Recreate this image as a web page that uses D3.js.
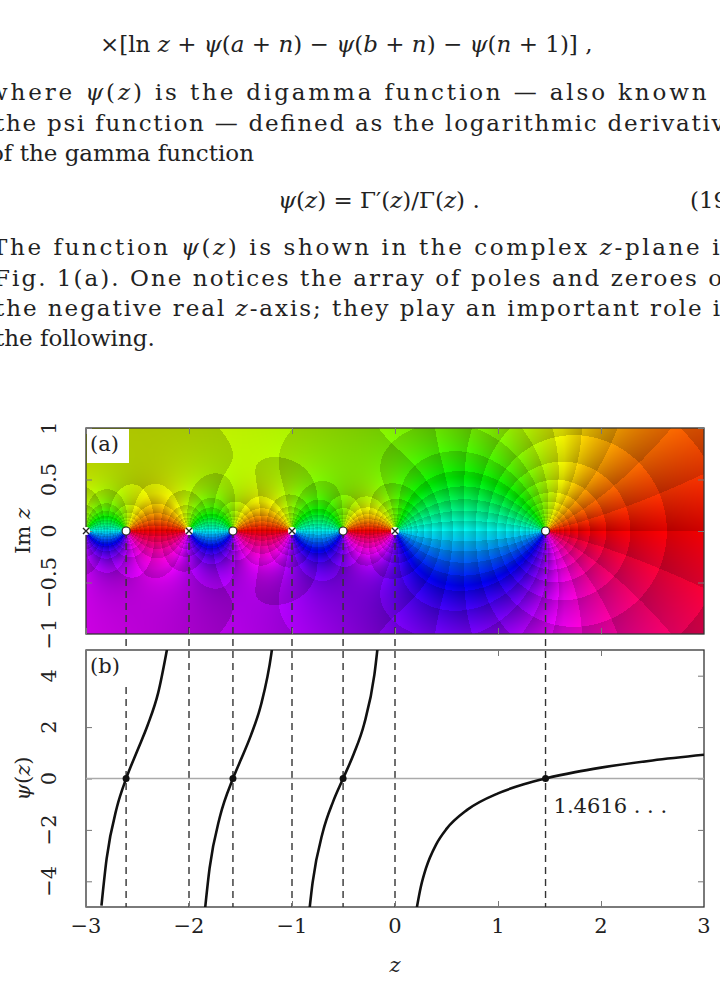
<!DOCTYPE html>
<html><head><meta charset="utf-8">
<script src="https://cdn.jsdelivr.net/npm/d3@7"></script>
<style>
body{margin:0;background:#fff;}
text{font-family:"DejaVu Serif","Liberation Serif",serif;fill:#222;}
</style></head>
<body><div id="graphics"></div>
<script>
// zeros and poles of psi on the real axis
const zeros = [-2.6107, -1.5734, -0.5040, 1.4616];
const poles = [-3, -2, -1, 0];
const xTicks = [-3, -2, -1, 0, 1, 2, 3];
const imTicks = [-1, -0.5, 0, 0.5, 1];
const psiTicks = [-4, -2, 0, 2, 4];

// branches of psi(z) on the real line, [z, psi]
const branch1 = [[-2.85,-4.95],[-2.8,-3.13],[-2.7,-1.12],[-2.61,0],[-2.5,1.10],[-2.4,2.09],[-2.3,3.32],[-2.2,5.32]];
const branch2 = [[-1.85,-5.30],[-1.8,-3.49],[-1.7,-1.49],[-1.573,0],[-1.5,0.70],[-1.4,1.67],[-1.3,2.88],[-1.2,4.87],[-1.18,5.48]];
const branch3 = [[-0.85,-5.84],[-0.8,-4.05],[-0.7,-2.07],[-0.6,-0.89],[-0.504,0],[-0.4,0.96],[-0.3,2.11],[-0.2,4.04],[-0.15,5.8]];
const branch4 = [[0.2,-5.30],[0.25,-4.23],[0.3,-3.50],[0.4,-2.56],[0.5,-1.96],[0.7,-1.22],[1,-0.577],[1.25,-0.228],[1.4616,0],[1.75,0.248],[2,0.423],[2.5,0.703],[3,0.923]];
const branches = [branch1, branch2, branch3, branch4];

const W = 720, H = 1003;
const svg = d3.select('#graphics').append('svg').attr('width', W).attr('height', H);

// ---- text block ----
const fs = 23;
function line(y, x, parts, len) {
  const t = svg.append('text').attr('x', x).attr('y', y).attr('font-size', fs);
  if (len) t.attr('textLength', len).attr('lengthAdjust', 'spacing');
  parts.forEach(p => {
    const s = t.append('tspan').text(p[0]);
    if (p[1]) s.attr('font-style', 'italic');
  });
  return t;
}
line(52, 100, [['×[ln '],['z',1],[' + '],['ψ',1],['('],['a',1],[' + '],['n',1],[') − '],['ψ',1],['('],['b',1],[' + '],['n',1],[') − '],['ψ',1],['('],['n',1],[' + 1)] ,']]);
line(100, -12, [['where '],['ψ',1],['('],['z',1],[') is the digamma function — also known as']], 760);
line(131, -5, [['the psi function — defined as the logarithmic derivative']], 745);
line(161, -10, [['of the gamma function']]);
line(208, 278, [['ψ',1],['('],['z',1],[') = Γ′('],['z',1],[')/Γ('],['z',1],[') .']]);
line(208, 690, [['(19)']]);
line(255, -8, [['The function '],['ψ',1],['('],['z',1],[') is shown in the complex '],['z',1],['-plane in']], 745);
line(286, -6, [['Fig. 1(a).  One notices the array of poles and zeroes on']], 745);
line(316, -5, [['the negative real '],['z',1],['-axis; they play an important role in']], 742);
line(346, -5, [['the following.']]);

// ---- scales ----
const x = d3.scaleLinear().domain([-3, 3]).range([86, 704]);
const yA = d3.scaleLinear().domain([-1, 1]).range([634, 428]);
const yB = d3.scaleLinear().domain([-5, 5]).range([907, 650]);

// ---- panel (a): phase portrait ----
function cdiv(a, b) { const d = b[0]*b[0]+b[1]*b[1]; return [(a[0]*b[0]+a[1]*b[1])/d, (a[1]*b[0]-a[0]*b[1])/d]; }
function cmul(a, b) { return [a[0]*b[0]-a[1]*b[1], a[0]*b[1]+a[1]*b[0]]; }
function digamma(z) {
  let acc = [0, 0], w = [z[0], z[1]];
  while (w[0] < 8) { const r = cdiv([1,0], w); acc[0] += r[0]; acc[1] += r[1]; w = [w[0]+1, w[1]]; }
  const lnw = [Math.log(Math.hypot(w[0], w[1])), Math.atan2(w[1], w[0])];
  const iw = cdiv([1,0], w), iw2 = cmul(iw, iw), iw4 = cmul(iw2, iw2), iw6 = cmul(iw4, iw2);
  return [lnw[0] - iw[0]/2 - iw2[0]/12 + iw4[0]/120 - iw6[0]/252 - acc[0],
          lnw[1] - iw[1]/2 - iw2[1]/12 + iw4[1]/120 - iw6[1]/252 - acc[1]];
}
const cw = Math.round(x.range()[1] - x.range()[0]), ch = Math.round(yA.range()[0] - yA.range()[1]);
const canvas = document.createElement('canvas'); canvas.width = cw; canvas.height = ch;
const ctx = canvas.getContext('2d'); const img = ctx.createImageData(cw, ch);
const frac = v => v - Math.floor(v);
for (let j = 0; j < ch; j++) for (let i = 0; i < cw; i++) {
  const z = [x.invert(x.range()[0] + i + 0.5), yA.invert(yA.range()[1] + j + 0.5)];
  const f = digamma(z);
  const arg = Math.atan2(f[1], f[0]);
  let hue = (arg * 180 / Math.PI + 360) % 360;
  const mod = Math.log(Math.hypot(f[0], f[1]));
  const b1 = frac(mod / Math.log(1.3)), b2 = frac(arg / (2*Math.PI/28));
  const v = 0.70 + 0.16 * b1 + 0.14 * b2;
  const c = d3.rgb(d3.hsl(hue, 1, 0.5 * v));
  const k = 4 * (j * cw + i);
  img.data[k] = c.r; img.data[k+1] = c.g; img.data[k+2] = c.b; img.data[k+3] = 255;
}
ctx.putImageData(img, 0, 0);
svg.append('image').attr('x', x.range()[0]).attr('y', yA.range()[1]).attr('width', cw).attr('height', ch)
  .attr('preserveAspectRatio', 'none').attr('href', canvas.toDataURL());

// dashed guide lines through both panels
const guides = zeros.concat(poles.filter(p => p > -3));
svg.selectAll('.guide').data(guides).join('line').attr('class', 'guide')
  .attr('x1', d => x(d)).attr('x2', d => x(d)).attr('y1', yA(0)).attr('y2', yB(-5))
  .attr('stroke', '#333').attr('stroke-width', 1.4).attr('stroke-dasharray', '7,5');

// frames, ticks
function frame(y, yt, fmt) {
  const g = svg.append('g');
  g.append('rect').attr('x', x.range()[0]).attr('y', y.range()[1]).attr('width', x.range()[1]-x.range()[0])
    .attr('height', y.range()[0]-y.range()[1]).attr('fill', 'none').attr('stroke', '#333').attr('stroke-width', 1.3);
  g.append('g').attr('transform', `translate(0,${y.range()[0]})`).call(d3.axisTop(x).tickValues(xTicks).tickSize(6).tickFormat(''));
  g.append('g').attr('transform', `translate(0,${y.range()[1]})`).call(d3.axisBottom(x).tickValues(xTicks).tickSize(6).tickFormat(''));
  g.append('g').attr('transform', `translate(${x.range()[0]},0)`).call(d3.axisRight(y).tickValues(yt).tickSize(6).tickFormat(''));
  g.append('g').attr('transform', `translate(${x.range()[1]},0)`).call(d3.axisLeft(y).tickValues(yt).tickSize(6).tickFormat(''));
  g.selectAll('.domain').remove();
  g.selectAll('.tick line').attr('stroke', '#777');
  yt.forEach(t => svg.append('text').attr('transform', `translate(56,${y(t)}) rotate(-90)`)
    .attr('text-anchor', 'middle').attr('font-size', 21).text(fmt(t)));
}
const fmtNum = t => (t < 0 ? '−' : '') + Math.abs(t);
frame(yA, imTicks, fmtNum);
frame(yB, psiTicks, fmtNum);

// zero line in (b)
svg.append('line').attr('x1', x(-3)).attr('x2', x(3)).attr('y1', yB(0)).attr('y2', yB(0))
  .attr('stroke', '#aaa').attr('stroke-width', 1.3);

// markers in (a)
svg.selectAll('.zeroA').data(zeros).join('circle').attr('cx', d => x(d)).attr('cy', yA(0)).attr('r', 4)
  .attr('fill', '#fff').attr('stroke', '#222').attr('stroke-width', 1.2);
poles.forEach(p => {
  svg.append('circle').attr('cx', x(p)).attr('cy', yA(0)).attr('r', 4).attr('fill', '#fff');
  svg.append('path').attr('d', `M${x(p)-3},${yA(0)-3}L${x(p)+3},${yA(0)+3}M${x(p)-3},${yA(0)+3}L${x(p)+3},${yA(0)-3}`)
    .attr('stroke', '#222').attr('stroke-width', 1.4);
});

// curves in (b)
svg.append('clipPath').attr('id', 'clipB').append('rect').attr('x', x(-3)).attr('y', yB(5))
  .attr('width', x(3)-x(-3)).attr('height', yB(-5)-yB(5));
const lineB = d3.line().x(d => x(d[0])).y(d => yB(d[1])).curve(d3.curveMonotoneX);
svg.append('g').attr('clip-path', 'url(#clipB)').selectAll('path').data(branches).join('path')
  .attr('d', lineB).attr('fill', 'none').attr('stroke', '#111').attr('stroke-width', 2.6);
svg.selectAll('.zeroB').data(zeros).join('circle').attr('cx', d => x(d)).attr('cy', yB(0)).attr('r', 3.5).attr('fill', '#111');
svg.append('text').attr('x', x(1.4616) + 8).attr('y', yB(0) + 34).attr('font-size', 21).text('1.4616 . . .');

// panel labels
[[yA, '(a)'], [yB, '(b)']].forEach(([y, s]) => {
  svg.append('rect').attr('x', x(-3) + 1).attr('y', y.range()[1] + 1).attr('width', 42).attr('height', 34).attr('fill', '#fff');
  svg.append('text').attr('x', x(-3) + 4).attr('y', y.range()[1] + 23).attr('font-size', 21).text(s);
});

// x tick labels and axis titles
xTicks.forEach(t => svg.append('text').attr('x', x(t)).attr('y', 933).attr('text-anchor', 'middle').attr('font-size', 21).text(fmtNum(t)));
svg.append('text').attr('x', x(0)).attr('y', 972).attr('text-anchor', 'middle').attr('font-size', 21).attr('font-style', 'italic').text('z');
svg.append('text').attr('transform', `translate(30,${yA(0)}) rotate(-90)`).attr('text-anchor', 'middle').attr('font-size', 21)
  .html('Im <tspan font-style="italic">z</tspan>');
svg.append('text').attr('transform', `translate(30,${yB(0)}) rotate(-90)`).attr('text-anchor', 'middle').attr('font-size', 21)
  .html('<tspan font-style="italic">ψ</tspan>(<tspan font-style="italic">z</tspan>)');
</script></body></html>
